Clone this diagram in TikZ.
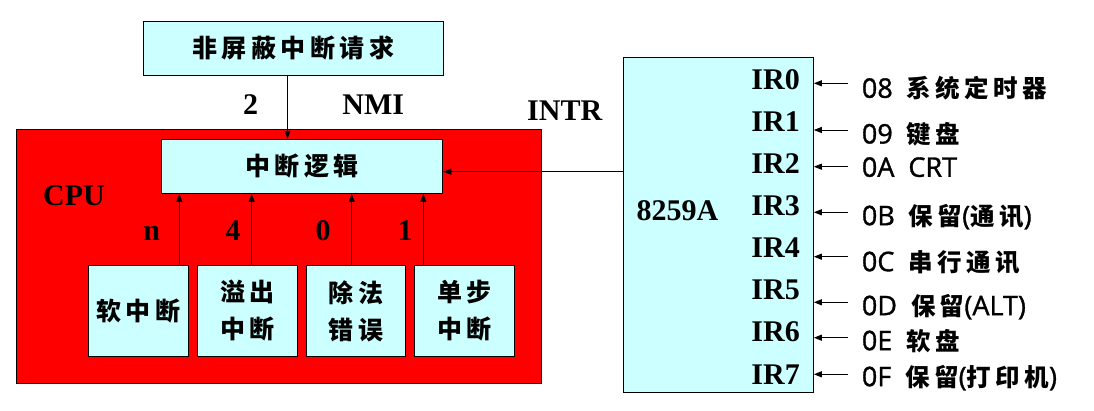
\documentclass[tikz,border=0pt]{standalone}
\usepackage{fontspec}
\setmainfont{Liberation Serif}
\newfontfamily\hexfont[FakeBold=1.2]{Open Sans}
\newfontfamily\cjk[LetterSpace=18]{Noto Sans CJK SC}
\usetikzlibrary{arrows.meta}
\definecolor{lcyan}{HTML}{CCFFFF}
\definecolor{cpured}{HTML}{FF0000}
\tikzset{
  box/.style={draw=black, line width=1pt, fill=lcyan, inner sep=0pt},
  arr/.style={-{Triangle[length=8pt,width=6pt]}, line width=0.9pt},
  lab/.style={font=\bfseries\fontsize{30}{30}\selectfont, inner sep=0pt},
  cjkbig/.style={font=\cjk\bfseries\fontsize{25}{37}\selectfont, align=center},
  hexlab/.style={font=\hexfont\fontsize{27}{27}\selectfont, inner sep=0pt, anchor=base west},
}
\newcommand{\zh}[1]{{\cjk\bfseries\fontsize{24.5}{24.5}\selectfont #1}}
\begin{document}
\begin{tikzpicture}[x=1pt,y=-1pt]
\useasboundingbox (0,0) rectangle (1094,411);
% boxes
\node[box, minimum width=299.5pt, minimum height=53.6pt, cjkbig] (nmi) at (293.25,48.5) {非屏蔽中断请求};
\node[draw=black, line width=1pt, fill=cpured, minimum width=525pt, minimum height=254pt, inner sep=0pt] (cpu) at (279,256.3) {};
\node[box, minimum width=281.3pt, minimum height=54pt, cjkbig] (logic) at (302.15,166.3) {中断逻辑};
\node[box, minimum width=99.9pt, minimum height=90.3pt, cjkbig] (b1) at (138.35,310.85) {软中断};
\node[box, minimum width=99.9pt, minimum height=90.3pt, cjkbig] (b2) at (247.45,310.85) {溢出\\中断};
\node[box, minimum width=98.8pt, minimum height=90.3pt, cjkbig] (b3) at (355.9,310.85) {除法\\错误};
\node[box, minimum width=99.5pt, minimum height=90.3pt, cjkbig] (b4) at (464.25,310.85) {单步\\中断};
\node[box, minimum width=190pt, minimum height=334.7pt] (chip) at (718.3,224.65) {};
% labels
\node[lab, anchor=base] (l2) at (250.5,114.3) {2};
\node[lab, anchor=base] (lnmi) at (373.3,114.3) {NMI};
\node[lab, anchor=base west] (lintr) at (527,121) {INTR};
\node[lab, anchor=base] (lcpu) at (74,205.5) {CPU};
\node[lab, anchor=base] (ln) at (151.7,241) {n};
\node[lab, anchor=base] (l4) at (233,241) {4};
\node[lab, anchor=base] (l0) at (323,241) {0};
\node[lab, anchor=base] (l1) at (405,241) {1};
\node[lab, anchor=base] (l8259) at (677.5,221) {8259A};
% arrows into logic
\coordinate (xn) at (287.5,0);
\draw[arr] (nmi.south -| xn) -- (logic.north -| xn);
\coordinate (xa) at (179.3,0);
\coordinate (xb) at (251.7,0);
\coordinate (xc) at (351.7,0);
\coordinate (xd) at (423.3,0);
\draw[arr] (b1.north -| xa) -- (logic.south -| xa);
\draw[arr] (b2.north -| xb) -- (logic.south -| xb);
\draw[arr] (b3.north -| xc) -- (logic.south -| xc);
\draw[arr] (b4.north -| xd) -- (logic.south -| xd);
\coordinate (yi) at (0,171.7);
\draw[arr] (chip.west |- yi) -- (logic.east |- yi);
% IR lines
\foreach \i/\yl/\ya/\yt/\txt in {
  0/90/83.3/97.8/{08\hspace{14pt}\zh{系统定时器}},
  1/131.7/130/143.5/{09\hspace{14pt}\zh{键盘}},
  2/173.3/166.7/176.8/{0A\hspace{14pt}CRT},
  3/216/212.3/225.2/{0B\hspace{14pt}\zh{保留}(\zh{通讯})},
  4/257.7/256.7/271.2/{0C\hspace{14pt}\zh{串行通讯}},
  5/299.3/302.3/315.2/{0D\hspace{14pt}\zh{保留}(ALT)},
  6/341.7/337.7/350.2/{0E\hspace{14pt}\zh{软盘}},
  7/384/374.3/386.2/{0F\hspace{14pt}\zh{保留}(\zh{打印机})}} {
  \node[lab, anchor=base east] (ir\i) at (800,\yl) {IR\i};
  \coordinate (s\i) at (848,\ya);
  \draw[arr] (s\i) -- (chip.east |- s\i);
  \node[hexlab] (h\i) at (861.7,\yt) {\txt};
}
\end{tikzpicture}
\end{document}
